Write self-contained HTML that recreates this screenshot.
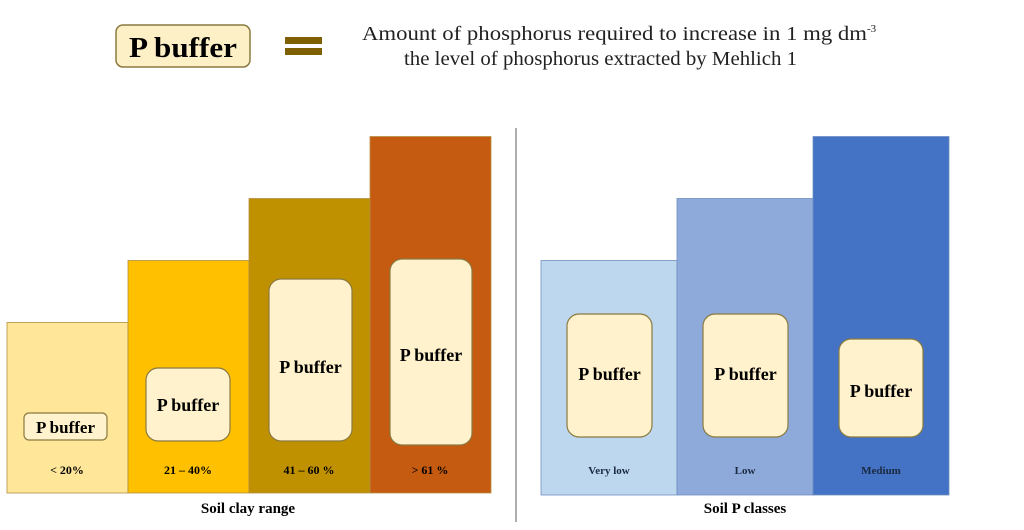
<!DOCTYPE html>
<html><head><meta charset="utf-8"><style>
body{margin:0;background:#fff;width:1024px;height:525px;overflow:hidden}
svg text{font-family:"Liberation Serif",serif}
</style></head><body>
<svg id="c" width="1024" height="525">
<g>
<rect x="116" y="25" width="134" height="42" rx="7" fill="#fdf0c6" stroke="#8a7a40" stroke-width="1.5"/>
<text x="129" y="57" textLength="108" lengthAdjust="spacingAndGlyphs" font-size="29" font-weight="bold">P buffer</text>
<rect x="285" y="37" width="37" height="7" fill="#7f6000"/>
<rect x="285" y="48" width="37" height="7" fill="#7f6000"/>
<text x="362" y="40" font-size="20" fill="#222"><tspan textLength="505" lengthAdjust="spacingAndGlyphs">Amount of phosphorus required to increase in 1 mg dm</tspan><tspan font-size="11" dy="-8">-3</tspan></text>
<text x="404" y="65" font-size="20" fill="#222" textLength="393" lengthAdjust="spacingAndGlyphs">the level of phosphorus extracted by Mehlich 1</text>
</g>
<line x1="516" y1="128" x2="516" y2="522" stroke="#777" stroke-width="1.2"/>
<text x="248" y="513" text-anchor="middle" font-size="15" font-weight="bold">Soil clay range</text>
<text x="745" y="513" text-anchor="middle" font-size="15" font-weight="bold">Soil P classes</text>
</svg>
<script>
const clayCategories=["< 20%","21 \u2013 40%","41 \u2013 60 %","> 61 %"];
const clayValues=[2.75,3.75,4.75,5.75];
const classCategories=["Very low","Low","Medium"];
const classValues=[3.75,4.75,5.75];
const svg=document.getElementById('c');
const NS='http://www.w3.org/2000/svg';
const baseY=493,unit=62;
function yS(v){return baseY-v*unit;}
function mk(t,a){const e=document.createElementNS(NS,t);for(const k in a)e.setAttribute(k,a[k]);svg.appendChild(e);return e;}
const clayColors=["#ffe699","#ffc000","#bf9000","#c55a11"];
const clayBoxes=[[24,413,83,27],[146,368,84,73],[269,279,83,162],[390,259,82,186]];
const clayFont=[17,18,18,18];
clayValues.forEach((v,i)=>{
  const x=7+i*121;
  const r=mk('rect',{x:x,y:yS(v),width:121,height:baseY-yS(v),fill:clayColors[i],stroke:"#b39040","stroke-width":0.8});
  
  
  const b=clayBoxes[i];
  const bx=mk('rect',{x:b[0],y:b[1],width:b[2],height:b[3],rx:i==0?5:12,fill:"#fff2cc",stroke:"#8a7a40","stroke-width":1.2});
  
  
  const ty=i==0?b[1]+20:(i==1?b[1]+43:(i==2?b[1]+94:b[1]+102));
  const t=mk('text',{x:b[0]+b[2]/2,y:ty,"text-anchor":"middle","font-size":clayFont[i],"font-weight":"bold"});
  t.textContent="P buffer";
  
  
  const l=mk('text',{x:x+60,y:474,"text-anchor":"middle","font-size":12,"font-weight":"bold"});
  l.textContent=clayCategories[i];
  
  
});
const classColors=["#bdd7ee","#8eaadb","#4472c4"];
const classBoxes=[[567,314,85,123,380],[703,314,85,123,380],[839,339,84,98,397]];
classValues.forEach((v,i)=>{
  const x=541+i*136;
  const r=mk('rect',{x:x,y:yS(v),width:136,height:baseY+2-yS(v),fill:classColors[i],stroke:"#6f8fc0","stroke-width":0.8});
  
  
  const b=classBoxes[i];
  const bx=mk('rect',{x:b[0],y:b[1],width:b[2],height:b[3],rx:12,fill:"#fff2cc",stroke:"#8a7a40","stroke-width":1.2});
  
  
  const t=mk('text',{x:b[0]+b[2]/2,y:b[4],"text-anchor":"middle","font-size":18,"font-weight":"bold"});
  t.textContent="P buffer";
  
  
  const l=mk('text',{x:x+68,y:474,"text-anchor":"middle","font-size":11,"font-weight":"bold",fill:"#1a2a40"});
  l.textContent=classCategories[i];
  
  
});
</script>
</body></html>
